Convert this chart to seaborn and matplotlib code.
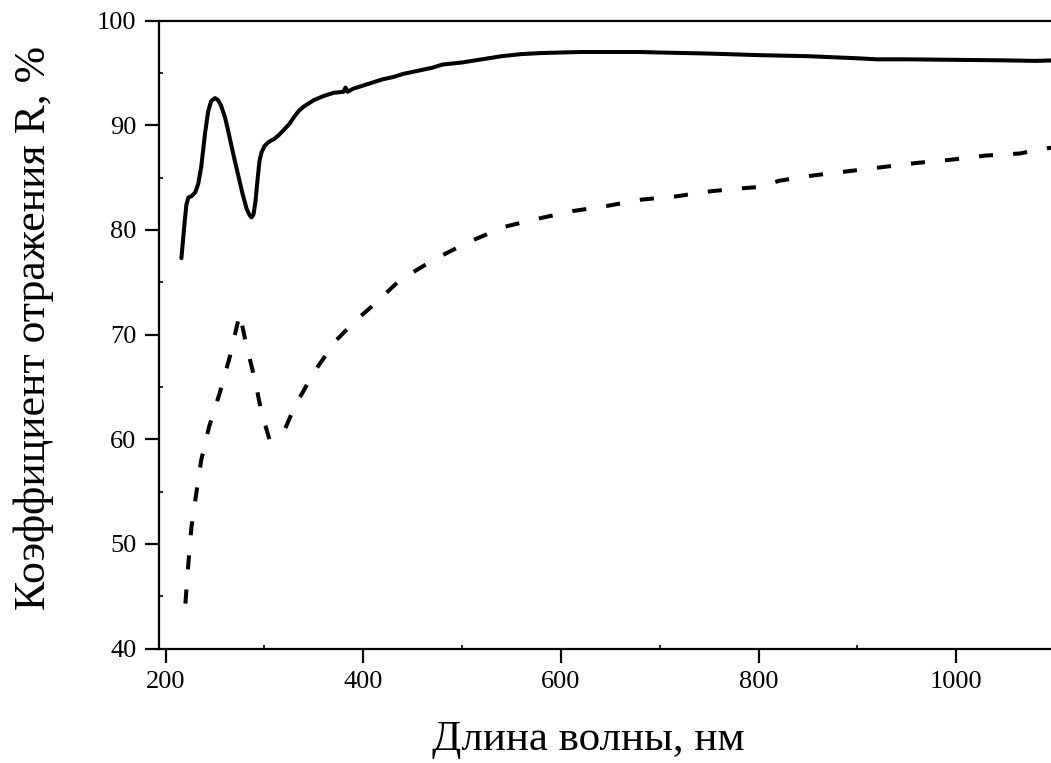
import numpy as np
import pandas as pd
import matplotlib
matplotlib.use("Agg")
import matplotlib.pyplot as plt
from matplotlib.ticker import MultipleLocator
import seaborn as sns

# Reflectance spectrum, measured curve (solid)
wl_solid = [216, 217, 219, 221, 223, 226, 230, 233, 236, 240, 243, 246, 250, 253,
            256, 260, 263, 266, 270, 274, 278, 282, 285, 287, 289, 291, 293, 295,
            297, 300, 303, 306, 310, 315, 320, 325, 330, 335, 340, 345, 350, 360,
            370, 380, 382, 384, 386, 390, 400, 410, 420, 430, 440, 450, 460, 470,
            480, 490, 500, 520, 540, 560, 580, 600, 620, 650, 680, 700, 750, 800,
            850, 900, 920, 950, 1000, 1050, 1080, 1100]
r_solid = [77.3, 78.4, 80.5, 82.4, 83.1, 83.2, 83.6, 84.4, 86.0, 89.3, 91.3, 92.3,
           92.6, 92.4, 91.9, 90.8, 89.6, 88.3, 86.6, 85.0, 83.4, 82.0, 81.4, 81.2,
           81.5, 82.8, 84.8, 86.6, 87.4, 88.0, 88.3, 88.5, 88.7, 89.1, 89.6, 90.1,
           90.8, 91.4, 91.8, 92.1, 92.4, 92.8, 93.1, 93.2, 93.6, 93.2, 93.3, 93.5,
           93.8, 94.1, 94.4, 94.6, 94.9, 95.1, 95.3, 95.5, 95.8, 95.9, 96.0, 96.3,
           96.6, 96.8, 96.9, 96.95, 97.0, 97.0, 97.0, 96.95, 96.85, 96.7, 96.6,
           96.4, 96.3, 96.3, 96.25, 96.2, 96.15, 96.2]

# Second spectrum (dashed)
wl_dash = [220, 223, 226, 231, 236, 244, 255, 265, 275, 281, 290, 297, 305, 320,
           330, 350, 373, 393, 410, 437, 474, 508, 543, 578, 612, 647, 682, 716,
           752, 786, 800, 821, 855, 890, 925, 960, 994, 1029, 1064, 1092, 1100]
r_dash = [44.3, 48.1, 51.5, 54.8, 58.0, 61.2, 64.5, 67.9, 72.0, 69.3, 65.8, 62.6,
          60.0, 60.8, 63.0, 66.4, 69.5, 71.4, 72.8, 75.2, 77.3, 78.9, 80.3, 81.1,
          81.8, 82.3, 82.9, 83.2, 83.7, 84.0, 84.1, 84.7, 85.2, 85.6, 86.0, 86.4,
          86.7, 87.1, 87.3, 87.8, 87.9]

x_ticks = [200, 400, 600, 800, 1000]
y_ticks = [40, 50, 60, 70, 80, 90, 100]

df_solid = pd.DataFrame({"wl": wl_solid, "R": r_solid})
df_dash = pd.DataFrame({"wl": wl_dash, "R": r_dash})

sns.set_theme(style="ticks")
plt.rcParams["font.family"] = ["Liberation Serif", "DejaVu Serif"]
plt.rcParams["text.color"] = "black"
plt.rcParams["axes.labelcolor"] = "black"

fig = plt.figure(figsize=(10.51, 7.63), dpi=100)
ax = fig.add_axes([0.151, 0.150, 0.851, 0.823])

sns.lineplot(data=df_solid, x="wl", y="R", ax=ax, color="black",
             linewidth=2.9, estimator=None, sort=False)
sns.lineplot(data=df_dash, x="wl", y="R", ax=ax, color="black",
             linewidth=2.9, estimator=None, sort=False)
ax.lines[-1].set_dashes([3.5, 5.0])
for ln in ax.lines:
    ln.set_solid_joinstyle("round")

ax.set_xlim(193, 1098)
ax.set_ylim(40, 100)
ax.set_xticks(x_ticks)
ax.set_yticks(y_ticks)
ax.xaxis.set_minor_locator(MultipleLocator(100))
ax.yaxis.set_minor_locator(MultipleLocator(5))

ax.tick_params(which="major", direction="out", length=10, width=1.6,
               labelsize=19, colors="black", labelcolor="black", pad=6)
ax.tick_params(which="minor", direction="in", length=3, width=1.2,
               colors="black")
ax.tick_params(top=False, right=False, which="both")

for side in ["left", "bottom", "top"]:
    ax.spines[side].set_linewidth(1.6)
    ax.spines[side].set_color("black")
ax.spines["right"].set_visible(False)

ax.set_xlabel("Длина волны, нм", fontsize=31, color="black")
ax.set_ylabel("Коэффициент отражения R, %", fontsize=31.5, color="black")
ax.xaxis.set_label_coords(0.48, -0.114)
ax.yaxis.set_label_coords(-0.117, 0.51)

fig.savefig("out.png", dpi=100, facecolor="white")
